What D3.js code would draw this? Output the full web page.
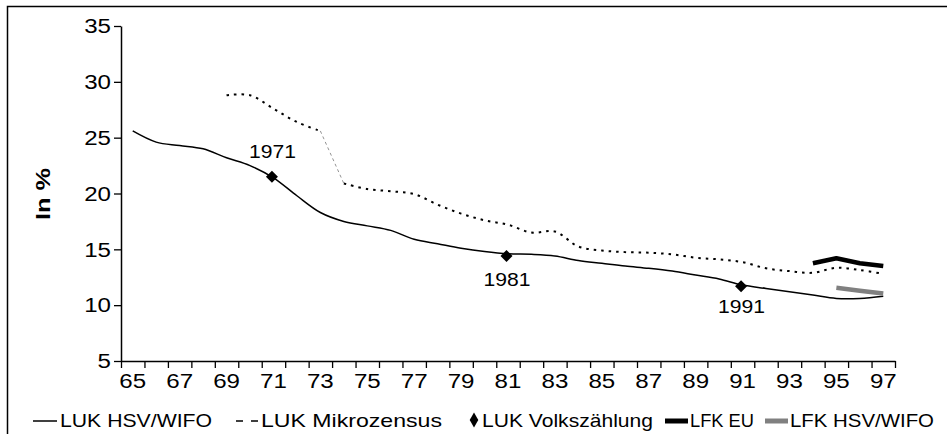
<!DOCTYPE html>
<html>
<head>
<meta charset="utf-8">
<script src="https://cdn.jsdelivr.net/npm/d3@7"></script>
<style>
  html, body { margin: 0; padding: 0; background: #fff; }
  svg text { font-family: "Liberation Sans", Arial, sans-serif; fill: #000; }
</style>
</head>
<body>
<div id="chart"></div>
<script>
// categories (years 1965..1997, shown as two digits)
var categories = ['65','66','67','68','69','70','71','72','73','74','75','76','77','78','79','80',
                  '81','82','83','84','85','86','87','88','89','90','91','92','93','94','95','96','97'];

var x_labels = ['65','67','69','71','73','75','77','79','81','83','85','87','89','91','93','95','97'];
var y_ticks  = [5, 10, 15, 20, 25, 30, 35];

// LUK HSV/WIFO, 65..97
var luk_hsv_wifo = [25.6, 24.6, 24.3, 24.0, 23.2, 22.5, 21.4, 19.8, 18.3, 17.5, 17.1, 16.7, 15.9, 15.5, 15.1, 14.8,
                    14.6, 14.55, 14.4, 14.0, 13.75, 13.5, 13.3, 13.05, 12.7, 12.35, 11.8, 11.5, 11.2, 10.9, 10.6, 10.6, 10.8];

// LUK Mikrozensus, 69..73 and 74..97 (series break between 73 and 74)
var mikro_years_a = ['69','70','71','72','73'];
var mikro_a       = [28.8, 28.8, 27.6, 26.4, 25.6];
var mikro_years_b = ['74','75','76','77','78','79','80','81','82','83','84','85','86','87','88','89','90',
                     '91','92','93','94','95','96','97'];
var mikro_b       = [20.9, 20.4, 20.2, 19.95, 19.0, 18.2, 17.6, 17.2, 16.5, 16.6, 15.25, 14.9, 14.75, 14.7, 14.55,
                     14.25, 14.1, 13.85, 13.3, 13.05, 12.9, 13.35, 13.15, 12.8];

// LUK Volkszählung (census years)
var vz_years  = ['71','81','91'];
var vz_values = [21.5, 14.4, 11.7];
var vz_labels = ['1971','1981','1991'];
var vz_label_dy = [-19, 30, 27];

// LFK EU
var lfk_eu_years = ['94','95','96','97'];
var lfk_eu       = [13.75, 14.2, 13.75, 13.5];

// LFK HSV/WIFO
var lfk_hsv_years = ['95','96','97'];
var lfk_hsv       = [11.55, 11.3, 11.05];

var W = 947, H = 434;

var svg = d3.select('#chart').append('svg')
  .attr('width', W)
  .attr('height', H);

// outer frame (runs off the right and bottom edges)
svg.append('rect')
  .attr('x', 7.5).attr('y', 6.5)
  .attr('width', 960).attr('height', 460)
  .style('fill', 'none')
  .style('stroke', '#000')
  .style('stroke-width', 1.5);

var x = d3.scaleBand()
  .domain(categories)
  .range([121, 895])
  .paddingInner(0).paddingOuter(0);

var cx = (c) => x(c) + x.bandwidth() / 2;

var x_edges = d3.scaleLinear()
  .domain([0, categories.length])
  .range([121, 895]);

var y = d3.scaleLinear()
  .domain([5, 35])
  .range([361, 26]);

var digit_w = 13.4;

// y axis
var gy = svg.append('g')
  .attr('transform', 'translate(121,0)')
  .call(d3.axisLeft(y).tickValues(y_ticks).tickSize(7).tickSizeOuter(0).tickPadding(3));

gy.select('.domain').style('stroke-width', 1.5);
gy.selectAll('.tick line').style('stroke-width', 1.3);
gy.selectAll('.tick text')
  .style('font-size', '20px')
  .attr('dy', '0.34em')
  .attr('lengthAdjust', 'spacingAndGlyphs')
  .attr('textLength', (d) => String(d).length * digit_w);

// x axis: ticks on category boundaries, labels at odd years
var gx_ticks = svg.append('g')
  .attr('transform', 'translate(0,361)')
  .call(d3.axisBottom(x_edges).tickValues(d3.range(categories.length + 1)).tickSize(7).tickSizeOuter(0).tickFormat(''));

gx_ticks.select('.domain').style('stroke-width', 1.5);
gx_ticks.selectAll('.tick line').style('stroke-width', 1.3);

var gx_labels = svg.append('g')
  .attr('transform', 'translate(0,361)')
  .call(d3.axisBottom(x).tickValues(x_labels).tickSize(0));

gx_labels.select('.domain').remove();
gx_labels.selectAll('.tick text')
  .style('font-size', '20px')
  .attr('y', 27).attr('dy', 0)
  .attr('lengthAdjust', 'spacingAndGlyphs')
  .attr('textLength', (d) => d.length * digit_w);

// y axis title
svg.append('text')
  .attr('transform', 'translate(50,194) rotate(-90)')
  .attr('text-anchor', 'middle')
  .style('font-size', '20px')
  .style('font-weight', 'bold')
  .attr('lengthAdjust', 'spacingAndGlyphs')
  .attr('textLength', 52)
  .text('In %');

var line = d3.line()
  .x((d) => cx(d[0]))
  .y((d) => y(d[1]))
  .curve(d3.curveCatmullRom.alpha(0.5));

var zip = (ks, vs) => ks.map((k, i) => [k, vs[i]]);

var gph = svg.append('g').attr('class', 'lines');

// LUK Mikrozensus
gph.append('path')
  .datum(zip(mikro_years_a, mikro_a))
  .attr('d', line)
  .style('fill', 'none').style('stroke', '#000')
  .style('stroke-width', 2).style('stroke-dasharray', '2.5,5');

gph.append('path')
  .datum([[mikro_years_a[mikro_years_a.length - 1], mikro_a[mikro_a.length - 1]], [mikro_years_b[0], mikro_b[0]]])
  .attr('d', d3.line().x((d) => cx(d[0])).y((d) => y(d[1])))
  .style('fill', 'none').style('stroke', '#777')
  .style('stroke-width', 0.8).style('stroke-dasharray', '3,3');

gph.append('path')
  .datum(zip(mikro_years_b, mikro_b))
  .attr('d', line)
  .style('fill', 'none').style('stroke', '#000')
  .style('stroke-width', 2).style('stroke-dasharray', '2.5,5');

// LUK HSV/WIFO
gph.append('path')
  .datum(zip(categories, luk_hsv_wifo))
  .attr('d', line)
  .style('fill', 'none').style('stroke', '#000')
  .style('stroke-width', 1.5);

// LFK EU
gph.append('path')
  .datum(zip(lfk_eu_years, lfk_eu))
  .attr('d', d3.line().x((d) => cx(d[0])).y((d) => y(d[1])))
  .style('fill', 'none').style('stroke', '#000')
  .style('stroke-width', 4.5).style('stroke-linejoin', 'round');

// LFK HSV/WIFO
gph.append('path')
  .datum(zip(lfk_hsv_years, lfk_hsv))
  .attr('d', d3.line().x((d) => cx(d[0])).y((d) => y(d[1])))
  .style('fill', 'none').style('stroke', '#808080')
  .style('stroke-width', 4.5);

// LUK Volkszählung markers + labels
var vz = zip(vz_years, vz_values);

gph.selectAll('path.vz')
  .data(vz).enter()
  .append('path')
  .attr('class', 'vz')
  .attr('d', d3.symbol(d3.symbolSquare, 72))
  .attr('transform', (d) => `translate(${cx(d[0]) - 1.5},${y(d[1])}) rotate(45)`)
  .style('fill', '#000');

gph.selectAll('text.vz-label')
  .data(vz).enter()
  .append('text')
  .attr('class', 'vz-label')
  .attr('x', (d) => cx(d[0]) - 1)
  .attr('y', (d, i) => y(d[1]) + vz_label_dy[i])
  .attr('text-anchor', 'middle')
  .style('font-size', '19px')
  .attr('lengthAdjust', 'spacingAndGlyphs')
  .attr('textLength', 47)
  .text((d, i) => vz_labels[i]);

// legend
var legend_y = 421;
var lg = svg.append('g').attr('class', 'legend');

lg.append('line')
  .attr('x1', 33).attr('x2', 57).attr('y1', legend_y).attr('y2', legend_y)
  .style('stroke', '#000').style('stroke-width', 1.5);

lg.append('line')
  .attr('x1', 236).attr('x2', 258).attr('y1', legend_y).attr('y2', legend_y)
  .style('stroke', '#000').style('stroke-width', 1.5).style('stroke-dasharray', '7,8');

lg.append('path')
  .attr('d', d3.symbol(d3.symbolDiamond, 64))
  .attr('transform', `translate(474,${legend_y - 1})`)
  .style('fill', '#000');

lg.append('line')
  .attr('x1', 665).attr('x2', 688).attr('y1', legend_y).attr('y2', legend_y)
  .style('stroke', '#000').style('stroke-width', 5);

lg.append('line')
  .attr('x1', 765).attr('x2', 788).attr('y1', legend_y).attr('y2', legend_y)
  .style('stroke', '#808080').style('stroke-width', 5);

var legend_items = [
  {label: 'LUK HSV/WIFO', x: 60, w: 152},
  {label: 'LUK Mikrozensus', x: 261, w: 181},
  {label: 'LUK Volkszählung', x: 482, w: 171},
  {label: 'LFK EU', x: 690, w: 64},
  {label: 'LFK HSV/WIFO', x: 790, w: 144}
];

lg.selectAll('text')
  .data(legend_items).enter()
  .append('text')
  .attr('x', (d) => d.x)
  .attr('y', 427)
  .style('font-size', '19px')
  .attr('lengthAdjust', 'spacingAndGlyphs')
  .attr('textLength', (d) => d.w)
  .text((d) => d.label);
</script>
</body>
</html>
